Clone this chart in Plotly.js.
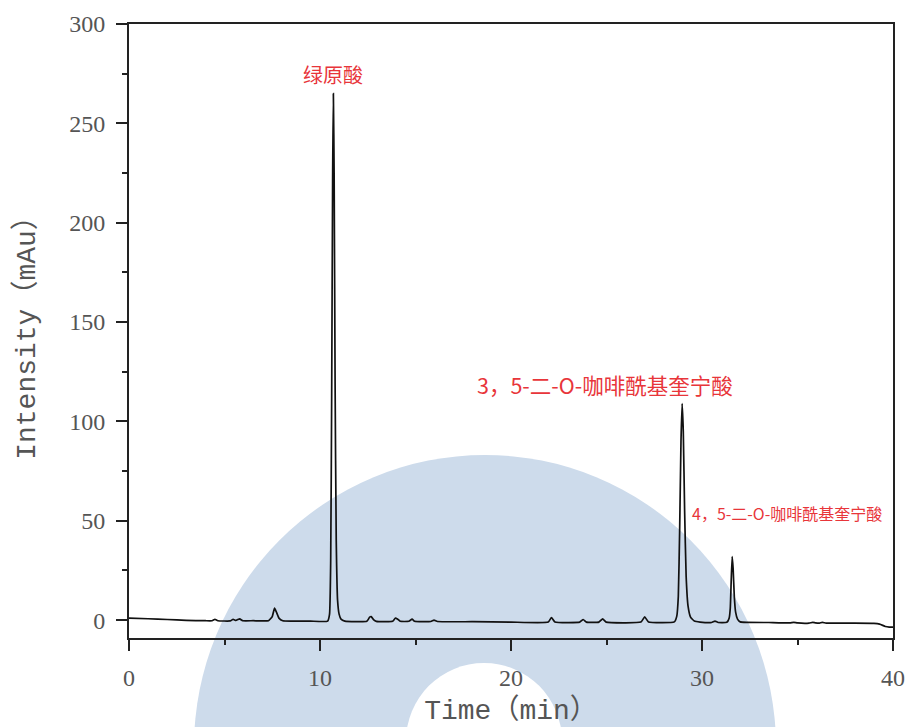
<!DOCTYPE html>
<html>
<head>
<meta charset="utf-8">
<script src="https://cdn.plot.ly/plotly-3.0.1.min.js"></script>
<style>html,body{margin:0;padding:0;background:#fff;}#chart{width:905px;height:727px;}</style>
</head>
<body>
<div id="chart"></div>
<script>
// Retention time (min)
const time = [
  0, 1, 2, 3, 4, 4.35, 4.5, 4.65, 5.3, 5.45, 5.6, 5.7, 5.8, 5.95, 6.5, 7.3, 7.5, 7.62, 7.72, 7.85, 8.05, 8.5, 9.5,
  10.4, 10.5, 10.56, 10.61, 10.66, 10.7, 10.74, 10.79, 10.85, 10.92, 11.0, 11.1, 11.3,
  12.45, 12.6, 12.68, 12.8, 12.95, 13.8, 13.95, 14.05, 14.2, 14.65, 14.82, 14.95, 15.8, 15.97, 16.15,
  18, 20, 21.95, 22.12, 22.3, 23.6, 23.78, 23.95, 24.6, 24.8, 24.98, 26.8, 27.0, 27.2,
  28.55, 28.68, 28.76, 28.83, 28.9, 28.96, 29.02, 29.09, 29.17, 29.27, 29.4, 29.6, 29.9,
  30.5, 30.68, 30.85, 31.3, 31.42, 31.48, 31.53, 31.58, 31.63, 31.69, 31.76, 31.86, 32.0,
  33.5, 34.6, 34.8, 35.0, 35.6, 35.8, 35.95, 36.15, 36.3, 36.5, 38.0, 39.0, 39.3, 39.6, 39.8, 40
];
// Absorbance (mAu)
const intensity = [
  1.0, 0.7, 0.3, -0.1, -0.3, -0.3, 0.4, -0.3, -0.4, 0.4, -0.2, 0.3, 0.6, -0.3, -0.3, -0.3, 1.8, 6.0, 4.0, 1.0, -0.3, -0.5, -0.5,
  -0.5, 3, 30, 110, 220, 265, 225, 120, 40, 10, 3, 0.5, -0.5,
  -0.6, 1.5, 1.8, 0.3, -0.6, -0.6, 1.0, 0.6, -0.6, -0.6, 0.5, -0.6, -0.7, 0.0, -0.7,
  -0.8, -1.0, -1.0, 1.3, -0.9, -1.0, 0.3, -1.0, -1.0, 0.6, -1.0, -1.0, 1.6, -0.9,
  -0.9, 2, 12, 45, 90, 109, 95, 55, 22, 7, 1.5, -0.5, -1.0,
  -1.2, -0.5, -1.2, -1.1, 1, 6, 20, 32, 26, 12, 4, 0.5, -0.9,
  -1.2, -1.4, -1.1, -1.4, -1.5, -1.1, -1.4, -1.5, -1.1, -1.5, -1.5, -1.6, -2.0, -3.2, -3.5, -3.5
];
// Peak labels
const peakNames = ["绿原酸", "3，5-二-O-咖啡酰基奎宁酸", "4，5-二-O-咖啡酰基奎宁酸"];
const peakLabelX = [10.68, 24.9, 34.45];
const peakLabelY = [274.5, 118.5, 54];
const peakLabelSize = [20, 21.5, 16];

const xTicks = [0, 10, 20, 30, 40];
const yTicks = [0, 50, 100, 150, 200, 250, 300];

const trace = {
  x: time, y: intensity, type: 'scatter', mode: 'lines',
  line: {color: '#111111', width: 1.7, shape: 'spline', smoothing: 0.4},
  hoverinfo: 'x+y', showlegend: false
};

const annotations = peakNames.map((t, i) => ({
  x: peakLabelX[i], y: peakLabelY[i], xref: 'x', yref: 'y', text: t, showarrow: false,
  xanchor: 'center', yanchor: 'middle',
  font: {family: '"Noto Sans CJK SC", "Noto Sans", sans-serif', size: peakLabelSize[i], color: '#e8353a'}
}));

const tickFont = {family: '"Liberation Serif", "DejaVu Serif", serif', size: 24, color: '#555555'};
const titleFont = {family: '"Liberation Mono", "Noto Sans CJK SC", monospace', size: 28, color: '#555555'};

const layout = {
  width: 905, height: 727,
  margin: {l: 129, r: 12, t: 24, b: 89, pad: 0},
  paper_bgcolor: '#ffffff', plot_bgcolor: 'rgba(0,0,0,0)',
  xaxis: {
    range: [0, 40], tickvals: xTicks, ticktext: xTicks.map(String),
    ticks: 'outside', ticklen: 11, tickwidth: 2, tickcolor: '#222',
    minor: {dtick: 5, tick0: 0, ticks: 'outside', ticklen: 5, tickwidth: 2, tickcolor: '#222'},
    showline: true, linewidth: 2, linecolor: '#222', mirror: true,
    showgrid: false, zeroline: false, tickfont: tickFont, ticklabelstandoff: 6,
    title: {text: 'Time（min）', font: titleFont, standoff: 17}
  },
  yaxis: {
    range: [-9, 300], tickvals: yTicks, ticktext: yTicks.map(String),
    ticks: 'outside', ticklen: 11, tickwidth: 2, tickcolor: '#222',
    minor: {dtick: 25, tick0: 0, ticks: 'outside', ticklen: 5, tickwidth: 2, tickcolor: '#222'},
    showline: true, linewidth: 2, linecolor: '#222', mirror: true,
    showgrid: false, zeroline: false, tickfont: tickFont, ticklabelstandoff: 6,
    title: {text: '\u00a0Intensity（mAu）', font: titleFont, standoff: 25}
  },
  annotations: annotations,
  shapes: [
    {type: 'circle', xref: 'paper', yref: 'paper', layer: 'below',
     x0: (485 - 291 - 129) / 764, x1: (485 + 291 - 129) / 764,
     y0: (638 - (747 + 292)) / 614, y1: (638 - (747 - 292)) / 614,
     fillcolor: '#cddbeb', line: {width: 0}},
    {type: 'circle', xref: 'paper', yref: 'paper', layer: 'below',
     x0: (484 - 78 - 129) / 764, x1: (484 + 78 - 129) / 764,
     y0: (638 - (741 + 78)) / 614, y1: (638 - (741 - 78)) / 614,
     fillcolor: '#ffffff', line: {width: 0}}
  ]
};

Plotly.newPlot('chart', [trace], layout, {displayModeBar: false, staticPlot: true});
</script>
</body>
</html>
